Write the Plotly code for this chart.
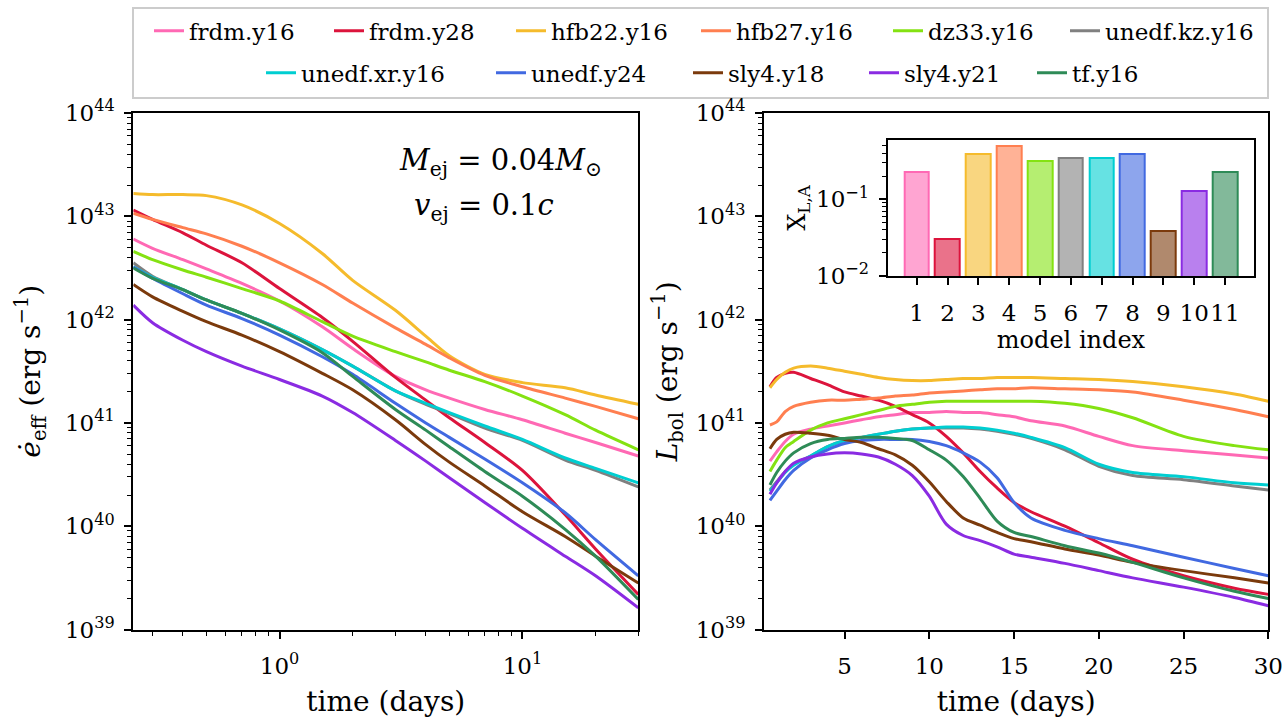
import numpy as np
import plotly.graph_objects as go

W, H = 1285, 718

# ---------------- data ----------------
names = ["frdm.y16", "frdm.y28", "hfb22.y16", "hfb27.y16", "dz33.y16", "unedf.kz.y16",
         "unedf.xr.y16", "unedf.y24", "sly4.y18", "sly4.y21", "tf.y16"]
colors = ["#ff69b4", "#dc143c", "#f5bb2c", "#ff7f50", "#84e212", "#808080",
          "#00ced1", "#4169e1", "#7b3a0c", "#8a2be2", "#2e8b57"]

# left panel: effective heating rate, log10(erg/s)
t_left = [0.25, 0.3, 0.4, 0.5, 0.7, 1, 1.5, 2, 3, 4, 5, 7, 10, 15, 20, 30]
eff_frdm_y16 = [42.78, 42.69, 42.58, 42.49, 42.35, 42.18, 41.93, 41.72, 41.45, 41.32, 41.24, 41.13, 41.03, 40.90, 40.81, 40.68]
eff_frdm_y28 = [43.06, 42.97, 42.84, 42.72, 42.55, 42.30, 42.02, 41.79, 41.44, 41.22, 41.05, 40.81, 40.54, 40.11, 39.78, 39.34]
eff_hfb22_y16 = [43.22, 43.21, 43.21, 43.20, 43.11, 42.93, 42.64, 42.38, 42.09, 41.84, 41.65, 41.47, 41.39, 41.34, 41.27, 41.18]
eff_hfb27_y16 = [43.03, 42.97, 42.89, 42.83, 42.71, 42.55, 42.34, 42.16, 41.92, 41.76, 41.63, 41.46, 41.35, 41.24, 41.16, 41.04]
eff_dz33_y16 = [42.66, 42.58, 42.48, 42.41, 42.30, 42.18, 41.98, 41.84, 41.69, 41.59, 41.51, 41.40, 41.26, 41.08, 40.93, 40.74]
eff_unedf_kz_y16 = [42.55, 42.42, 42.29, 42.19, 42.06, 41.91, 41.71, 41.55, 41.31, 41.18, 41.09, 40.95, 40.83, 40.64, 40.54, 40.38]
eff_unedf_xr_y16 = [42.51, 42.41, 42.29, 42.19, 42.06, 41.91, 41.71, 41.55, 41.31, 41.19, 41.10, 40.97, 40.84, 40.66, 40.56, 40.42]
eff_unedf_y24 = [42.51, 42.40, 42.25, 42.14, 42.01, 41.85, 41.64, 41.47, 41.19, 41.00, 40.86, 40.65, 40.42, 40.13, 39.87, 39.52]
eff_sly4_y18 = [42.34, 42.22, 42.08, 41.98, 41.85, 41.69, 41.48, 41.32, 41.03, 40.79, 40.62, 40.39, 40.14, 39.90, 39.71, 39.45]
eff_sly4_y21 = [42.14, 41.97, 41.80, 41.69, 41.55, 41.42, 41.26, 41.10, 40.83, 40.63, 40.47, 40.23, 39.98, 39.71, 39.52, 39.21]
eff_tf_y16 = [42.50, 42.40, 42.29, 42.19, 42.06, 41.90, 41.68, 41.45, 41.13, 40.93, 40.77, 40.53, 40.29, 39.97, 39.71, 39.29]

# right panel: bolometric luminosity, log10(erg/s)
t_right = [0.6, 1, 1.5, 2, 3, 4, 5, 6, 7, 8, 9, 10, 11, 12, 13, 14, 15, 16, 18, 20, 22, 25, 28, 30]
lbol_frdm_y16 = [40.63, 40.72, 40.82, 40.89, 40.94, 40.97, 41.00, 41.03, 41.06, 41.08, 41.10, 41.10, 41.11, 41.10, 41.10, 41.08, 41.06, 41.02, 40.97, 40.87, 40.78, 40.73, 40.69, 40.66]
lbol_frdm_y28 = [41.35, 41.44, 41.48, 41.49, 41.43, 41.37, 41.30, 41.26, 41.22, 41.16, 41.08, 41.00, 40.87, 40.71, 40.53, 40.37, 40.23, 40.14, 40.00, 39.84, 39.68, 39.52, 39.40, 39.34]
lbol_hfb22_y16 = [41.34, 41.42, 41.49, 41.53, 41.55, 41.53, 41.50, 41.47, 41.44, 41.42, 41.41, 41.41, 41.42, 41.43, 41.43, 41.44, 41.44, 41.44, 41.43, 41.42, 41.40, 41.35, 41.28, 41.21]
lbol_hfb27_y16 = [40.98, 41.01, 41.11, 41.16, 41.20, 41.22, 41.22, 41.23, 41.24, 41.26, 41.27, 41.29, 41.30, 41.31, 41.32, 41.33, 41.33, 41.34, 41.33, 41.32, 41.30, 41.22, 41.13, 41.06]
lbol_dz33_y16 = [40.53, 40.64, 40.76, 40.82, 40.93, 41.00, 41.04, 41.08, 41.12, 41.16, 41.18, 41.20, 41.21, 41.21, 41.21, 41.21, 41.21, 41.21, 41.19, 41.14, 41.05, 40.87, 40.78, 40.74]
lbol_unedf_kz_y16 = [40.35, 40.43, 40.53, 40.60, 40.68, 40.77, 40.83, 40.86, 40.89, 40.92, 40.94, 40.95, 40.95, 40.95, 40.94, 40.92, 40.89, 40.85, 40.74, 40.58, 40.49, 40.45, 40.39, 40.35]
lbol_unedf_xr_y16 = [40.34, 40.42, 40.52, 40.59, 40.68, 40.77, 40.83, 40.86, 40.89, 40.92, 40.94, 40.95, 40.96, 40.96, 40.95, 40.93, 40.90, 40.86, 40.76, 40.60, 40.52, 40.48, 40.42, 40.40]
lbol_unedf_y24 = [40.25, 40.34, 40.45, 40.54, 40.66, 40.74, 40.80, 40.83, 40.84, 40.84, 40.84, 40.82, 40.78, 40.71, 40.62, 40.47, 40.23, 40.08, 39.96, 39.88, 39.81, 39.70, 39.59, 39.52]
lbol_sly4_y18 = [40.75, 40.84, 40.89, 40.91, 40.90, 40.88, 40.84, 40.81, 40.75, 40.69, 40.59, 40.43, 40.24, 40.08, 40.01, 39.94, 39.88, 39.85, 39.78, 39.72, 39.65, 39.57, 39.50, 39.45]
lbol_sly4_y21 = [40.31, 40.42, 40.53, 40.61, 40.67, 40.70, 40.71, 40.70, 40.67, 40.60, 40.49, 40.29, 40.02, 39.91, 39.86, 39.80, 39.73, 39.70, 39.64, 39.57, 39.50, 39.41, 39.31, 39.23]
lbol_tf_y16 = [40.40, 40.52, 40.63, 40.71, 40.80, 40.84, 40.85, 40.86, 40.86, 40.85, 40.83, 40.74, 40.64, 40.48, 40.27, 40.05, 39.94, 39.90, 39.81, 39.74, 39.65, 39.50, 39.37, 39.30]

# inset: lanthanide/actinide mass fraction
model_index = [1, 2, 3, 4, 5, 6, 7, 8, 9, 10, 11]
x_la = [0.229, 0.0304, 0.386, 0.50, 0.318, 0.348, 0.348, 0.39, 0.039, 0.129, 0.229]

eff_all = [eff_frdm_y16, eff_frdm_y28, eff_hfb22_y16, eff_hfb27_y16, eff_dz33_y16, eff_unedf_kz_y16,
           eff_unedf_xr_y16, eff_unedf_y24, eff_sly4_y18, eff_sly4_y21, eff_tf_y16]
lbol_all = [lbol_frdm_y16, lbol_frdm_y28, lbol_hfb22_y16, lbol_hfb27_y16, lbol_dz33_y16, lbol_unedf_kz_y16,
            lbol_unedf_xr_y16, lbol_unedf_y24, lbol_sly4_y18, lbol_sly4_y21, lbol_tf_y16]

# legend sample positions (pixels)
legend_x_px = [150, 330, 512, 697, 889, 1066, 262, 492, 689, 865, 1033]
legend_row = [0, 0, 0, 0, 0, 0, 1, 1, 1, 1, 1]

FONT = "DejaVu Serif"


def px(x):
    return x / W


def py(y):
    return 1 - y / H


def rgba(hexc, a):
    h = hexc.lstrip("#")
    r, g, b = int(h[0:2], 16), int(h[2:4], 16), int(h[4:6], 16)
    return f"rgba({r},{g},{b},{a})"


fig = go.Figure()

for i, name in enumerate(names):
    lg = "legend" if i == 0 else f"legend{i+1}"
    fig.add_trace(go.Scatter(
        x=t_left, y=10.0 ** np.array(eff_all[i]), mode="lines", name=name,
        line=dict(color=colors[i], width=3, shape="spline", smoothing=0.8),
        xaxis="x", yaxis="y", legend=lg, showlegend=True))

for i, name in enumerate(names):
    fig.add_trace(go.Scatter(
        x=t_right, y=10.0 ** np.array(lbol_all[i]), mode="lines", name=name,
        line=dict(color=colors[i], width=3, shape="spline", smoothing=0.8),
        xaxis="x2", yaxis="y2", showlegend=False))

fig.add_trace(go.Bar(
    x=model_index, y=x_la, width=0.8,
    marker=dict(color=[rgba(c, 0.6) for c in colors], line=dict(color=colors, width=2)),
    xaxis="x3", yaxis="y3", showlegend=False))

ax_common = dict(showline=True, mirror=True, linecolor="black", linewidth=2,
                 ticks="outside", ticklen=7, tickwidth=1.5, tickcolor="black",
                 showgrid=False, zeroline=False, automargin=False,
                 tickfont=dict(family=FONT, size=23, color="black"))

decades = [10.0 ** e for e in range(39, 45)]
dec_text = ["10<sup>39</sup>", "10<sup>40</sup>", "10<sup>41</sup>", "10<sup>42</sup>",
            "10<sup>43</sup>", "10<sup>44</sup>"]
y_minor = [m * 10.0 ** e for e in range(39, 44) for m in range(2, 10)]
minor_style = dict(ticks="outside", ticklen=4, tickwidth=1.2, tickcolor="black", showgrid=False)

x_minor_left = [0.3, 0.4, 0.5, 0.6, 0.7, 0.8, 0.9, 2, 3, 4, 5, 6, 7, 8, 9, 20, 30]

title_font = dict(family=FONT, size=28, color="black")
inset_font = dict(family=FONT, size=24, color="black")

fig.update_layout(
    width=W, height=H,
    margin=dict(l=0, r=0, t=0, b=0),
    paper_bgcolor="white", plot_bgcolor="white",
    font=dict(family=FONT, color="black"),
    showlegend=True,
    bargap=0,
    xaxis=dict(domain=[px(133.3), px(638.3)], type="log", range=[np.log10(0.25), np.log10(30)],
               tickvals=[1, 10], ticktext=["10<sup>0</sup>", "10<sup>1</sup>"],
               minor=dict(tickvals=x_minor_left, **minor_style),
               ticklabelstandoff=8,
               title=dict(text="time (days)", font=title_font, standoff=14),
               anchor="y", **ax_common),
    yaxis=dict(domain=[py(629.5), py(113)], type="log", range=[39, 44],
               tickvals=decades, ticktext=dec_text,
               minor=dict(tickvals=y_minor, **minor_style),
               ticklabelstandoff=5,
               title=dict(text="<i>ė</i><sub>eff</sub> (erg s<sup>−1</sup>)", font=title_font, standoff=16),
               anchor="x", **ax_common),
    xaxis2=dict(domain=[px(764), px(1268.3)], range=[0.25, 30],
                tickvals=[5, 10, 15, 20, 25, 30],
                ticklabelstandoff=8,
                title=dict(text="time (days)", font=title_font, standoff=14),
                anchor="y2", **ax_common),
    yaxis2=dict(domain=[py(629.5), py(113)], type="log", range=[39, 44],
                tickvals=decades, ticktext=dec_text,
                minor=dict(tickvals=y_minor, **minor_style),
                ticklabelstandoff=5,
                title=dict(text="<i>L</i><sub>bol</sub> (erg s<sup>−1</sup>)", font=title_font, standoff=10),
                anchor="x2", **ax_common),
    xaxis3=dict(domain=[px(887.7), px(1254.3)], range=[0.06, 11.95],
                tickvals=model_index, tickangle=0,
                ticklabelstandoff=8,
                title=dict(text="model index", font=inset_font, standoff=4),
                anchor="y3", **ax_common),
    yaxis3=dict(domain=[py(276), py(140)], type="log", range=[-2, np.log10(0.593)],
                tickvals=[0.01, 0.1], ticktext=["10<sup>−2</sup>", "10<sup>−1</sup>"],
                minor=dict(tickvals=[0.02, 0.03, 0.04, 0.05, 0.06, 0.07, 0.08, 0.09, 0.2, 0.3, 0.4, 0.5],
                           **minor_style),
                ticklabelstandoff=5,
                title=dict(text="X<sub>L,A</sub>", font=inset_font, standoff=4),
                anchor="x3", **ax_common),
)

# per-entry legends to reproduce the two centred legend rows
row_y = [30.7, 72.7]
for i in range(len(names)):
    key = "legend" if i == 0 else f"legend{i+1}"
    fig.update_layout({key: dict(
        x=px(legend_x_px[i] - 1), y=py(row_y[legend_row[i]]), xanchor="left", yanchor="middle",
        orientation="h", bgcolor="rgba(0,0,0,0)", borderwidth=0,
        font=dict(family=FONT, size=23, color="black"), itemwidth=30)})

# legend frame
fig.add_shape(type="rect", xref="paper", yref="paper",
              x0=px(133), x1=px(1268), y0=py(98), y1=py(8),
              line=dict(color="#cccccc", width=2), fillcolor="rgba(255,255,255,0.8)", layer="below")

fig.add_annotation(text="<i>M</i><sub>ej</sub> = 0.04<i>M</i><sub>⊙</sub>", xref="paper", yref="paper",
                   x=px(500), y=py(162), xanchor="center", yanchor="middle", showarrow=False,
                   font=dict(family=FONT, size=29, color="black"))
fig.add_annotation(text="<i>v</i><sub>ej</sub> = 0.1<i>c</i>", xref="paper", yref="paper",
                   x=px(484), y=py(207), xanchor="center", yanchor="middle", showarrow=False,
                   font=dict(family=FONT, size=29, color="black"))

fig.write_html("out.html", config={"displayModeBar": False},
               post_script="document.body.style.margin='0';")
